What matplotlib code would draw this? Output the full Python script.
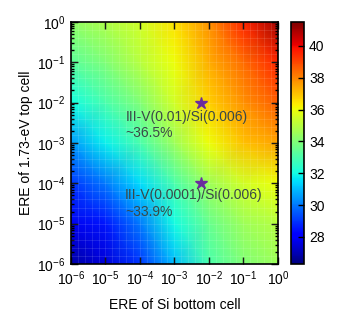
import numpy as np
import matplotlib
matplotlib.use('Agg')
from matplotlib import pyplot as plt

plt.rcParams['font.family'] = ['Liberation Sans', 'DejaVu Sans']
plt.rcParams['font.size'] = 10

# ERE grid points (decades)
ere_si = [1e-6, 1e-5, 1e-4, 1e-3, 1e-2, 1e-1, 1e0]
ere_top = [1e-6, 1e-5, 1e-4, 1e-3, 1e-2, 1e-1, 1e0]

# efficiency (%), rows = top cell ERE, cols = Si ERE
eff = [
    [26.8, 27.5, 29.0, 31.0, 33.0, 34.0, 34.5],
    [27.8, 28.5, 30.0, 32.0, 33.5, 34.5, 35.0],
    [29.0, 30.0, 31.5, 33.0, 34.5, 35.5, 36.0],
    [30.5, 31.8, 33.0, 34.5, 36.0, 37.0, 37.5],
    [32.0, 33.0, 34.0, 35.5, 36.8, 37.8, 38.6],
    [33.3, 34.0, 35.0, 36.0, 37.3, 38.4, 39.5],
    [34.3, 34.8, 35.5, 36.5, 37.8, 39.5, 41.0],
]

star_si = [0.006, 0.006]
star_top = [0.01, 0.0001]
star_labels = ['III-V(0.01)/Si(0.006)\n~36.5%', 'III-V(0.0001)/Si(0.006)\n~33.9%']
label_pos = [(3.9e-5, 6.5e-3), (3.7e-5, 7.5e-5)]

fig = plt.figure(figsize=(3.46, 3.22), dpi=100)
ax = fig.add_axes([0.205, 0.180, 0.598, 0.752])
cax = fig.add_axes([0.841, 0.180, 0.038, 0.752])

X, Y = np.meshgrid(ere_si, ere_top)
mesh = ax.pcolormesh(X, Y, np.array(eff), cmap='jet', vmin=26.3, vmax=41.5,
                     shading='gouraud', rasterized=True)
ax.set_xscale('log')
ax.set_yscale('log')
ax.set_xlim(1e-6, 1)
ax.set_ylim(1e-6, 1)

# faint cell lines like the original grid
cells = 10 ** np.linspace(-6, 0, 31)
for c in cells[1:-1]:
    ax.axvline(c, color='white', lw=0.5, alpha=0.15)
    ax.axhline(c, color='white', lw=0.5, alpha=0.15)

ax.plot(star_si, star_top, linestyle='none', marker='*', ms=9,
        color='#6a2c9e', mec='#6a2c9e')
for txt, (px, py) in zip(star_labels, label_pos):
    ax.text(px, py, txt, ha='left', va='top', color='#3a4848', fontsize=10,
            linespacing=1.2)

ax.set_xticks(ere_si)
ax.set_yticks(ere_top)
ax.tick_params(which='both', direction='in', top=True, right=True, width=1)
ax.tick_params(which='major', length=5, pad=4)
ax.tick_params(which='minor', length=2.5)
for s in ax.spines.values():
    s.set_linewidth(1.2)
ax.set_xlabel('ERE of Si bottom cell', labelpad=7)
ax.set_ylabel('ERE of 1.73-eV top cell', labelpad=3)

cb = fig.colorbar(mesh, cax=cax, ticks=[28, 30, 32, 34, 36, 38, 40])
cb.ax.tick_params(direction='in', length=4, width=1)
cb.outline.set_linewidth(1.2)

fig.savefig('out.png', dpi=100)
